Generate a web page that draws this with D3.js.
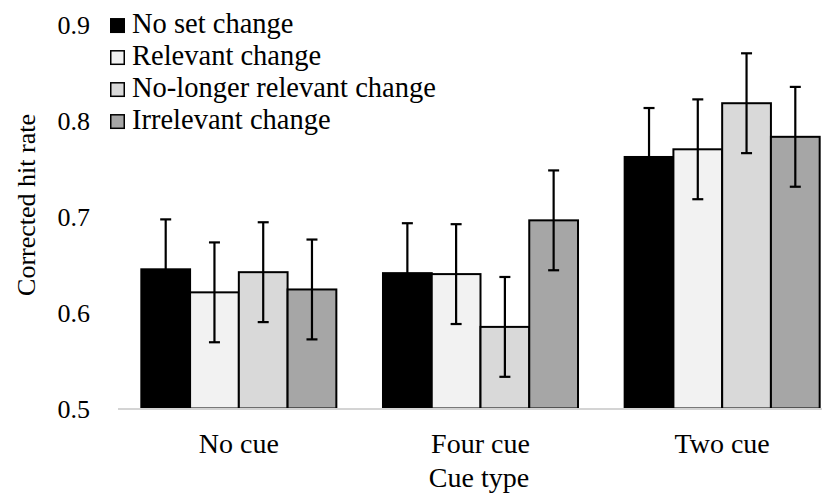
<!DOCTYPE html>
<html>
<head>
<meta charset="utf-8">
<script src="https://cdn.jsdelivr.net/npm/d3@7"></script>
<style>
  html, body { margin: 0; padding: 0; background: #fff; }
  svg { display: block; }
</style>
</head>
<body>
<svg id="chart" width="833" height="499"></svg>
<script>
// ---- data ----
const categories = ["No cue", "Four cue", "Two cue"];
const seriesNames = ["No set change", "Relevant change", "No-longer relevant change", "Irrelevant change"];
const noSetChange      = [0.645, 0.641, 0.762];
const relevantChange   = [0.621, 0.640, 0.770];
const noLongerRelevant = [0.642, 0.585, 0.818];
const irrelevantChange = [0.624, 0.696, 0.783];
const errNoSet      = [0.052, 0.052, 0.051];
const errRelevant   = [0.052, 0.052, 0.052];
const errNoLonger   = [0.052, 0.052, 0.052];
const errIrrelevant = [0.052, 0.052, 0.052];
const yTicks = [0.5, 0.6, 0.7, 0.8, 0.9];
const seriesColors = ["#000000", "#f2f2f2", "#d9d9d9", "#a6a6a6"];

const seriesValues = [noSetChange, relevantChange, noLongerRelevant, irrelevantChange];
const seriesErrors = [errNoSet, errRelevant, errNoLonger, errIrrelevant];

const FONT = "Liberation Serif";
const svg = d3.select("#chart").attr("font-family", FONT);

const y = d3.scaleLinear().domain([0.5, 0.9]).range([408.5, 24.5]);
const x0 = d3.scaleBand().domain(categories).range([118, 843])
  .paddingInner(0.193).paddingOuter(0.0965);
const x1 = d3.scaleBand().domain(seriesNames).range([0, x0.bandwidth()]);
const color = d3.scaleOrdinal().domain(seriesNames).range(seriesColors);

// y axis (labels only)
const yAxis = d3.axisLeft(y).tickValues(yTicks).tickFormat(d3.format(".1f"))
  .tickSize(0).tickPadding(28);
const gy = svg.append("g").attr("transform", "translate(118,0)").call(yAxis)
  .attr("font-family", FONT).attr("font-size", 26);
gy.select(".domain").remove();
gy.selectAll("text").attr("font-family", FONT).attr("font-size", 26)
  .attr("fill", "#000").attr("dy", "0.34em");

// bars
const rows = [];
categories.forEach((c, ci) => {
  seriesNames.forEach((s, si) => {
    rows.push({cat: c, series: s, value: seriesValues[si][ci], err: seriesErrors[si][ci]});
  });
});

const g = svg.append("g");
g.selectAll("rect.bar").data(rows).enter().append("rect")
  .attr("class", "bar")
  .attr("x", d => x0(d.cat) + x1(d.series))
  .attr("y", d => y(d.value))
  .attr("width", x1.bandwidth())
  .attr("height", d => y(0.5) - y(d.value))
  .attr("fill", d => color(d.series))
  .attr("stroke", "#000")
  .attr("stroke-width", 2);

// x axis line
svg.append("line")
  .attr("x1", 118).attr("x2", 822)
  .attr("y1", y(0.5) + 0.5).attr("y2", y(0.5) + 0.5)
  .attr("stroke", "#d4d4d4").attr("stroke-width", 2);

// error bars
const eb = g.selectAll("g.err").data(rows).enter().append("g").attr("class", "err");
const cx = d => x0(d.cat) + x1(d.series) + x1.bandwidth() / 2;
eb.append("line")
  .attr("x1", cx).attr("x2", cx)
  .attr("y1", d => y(d.value + d.err)).attr("y2", d => y(d.value - d.err))
  .attr("stroke", "#000").attr("stroke-width", 2.2);
eb.append("line")
  .attr("x1", d => cx(d) - 5.5).attr("x2", d => cx(d) + 5.5)
  .attr("y1", d => y(d.value + d.err)).attr("y2", d => y(d.value + d.err))
  .attr("stroke", "#000").attr("stroke-width", 2.2);
eb.append("line")
  .attr("x1", d => cx(d) - 5.5).attr("x2", d => cx(d) + 5.5)
  .attr("y1", d => y(d.value - d.err)).attr("y2", d => y(d.value - d.err))
  .attr("stroke", "#000").attr("stroke-width", 2.2);

// category labels
svg.append("g").selectAll("text").data(categories).enter().append("text")
  .attr("x", d => x0(d) + x0.bandwidth() / 2)
  .attr("y", 453)
  .attr("text-anchor", "middle")
  .attr("font-family", FONT).attr("font-size", 28)
  .text(d => d);

// axis titles
svg.append("text").attr("x", 479).attr("y", 487).attr("text-anchor", "middle")
  .attr("font-family", FONT).attr("font-size", 28).text("Cue type");
svg.append("text").attr("transform", "translate(35,205) rotate(-90)")
  .attr("text-anchor", "middle").attr("font-family", FONT).attr("font-size", 26)
  .text("Corrected hit rate");

// legend
const lg = svg.append("g");
const li = lg.selectAll("g").data(seriesNames).enter().append("g")
  .attr("transform", (d, i) => `translate(110,${y(0.9) + 8.8 + i * 32})`);
li.append("rect").attr("x", 0.75).attr("y", -14.5).attr("width", 13.5).attr("height", 13.5)
  .attr("fill", d => color(d)).attr("stroke", "#000").attr("stroke-width", 1.5);
li.append("text").attr("x", 22).attr("y", 0)
  .attr("font-family", FONT).attr("font-size", 28.5).text(d => d);
</script>
</body>
</html>
